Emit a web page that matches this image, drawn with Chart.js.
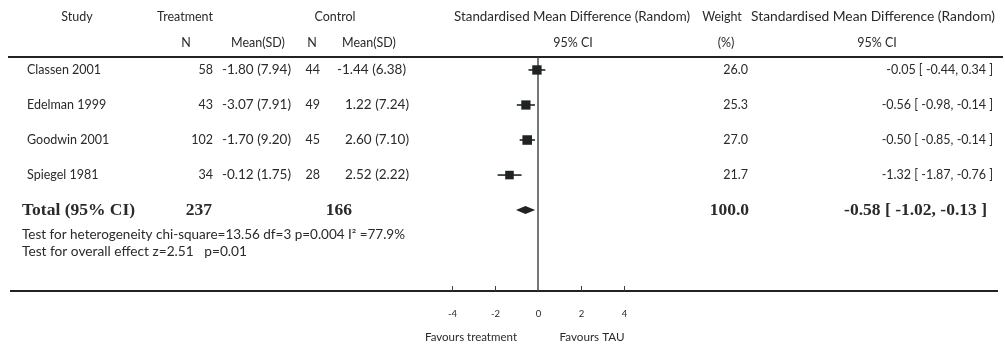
<!DOCTYPE html>
<html>
<head>
<meta charset="utf-8">
<script src="https://cdn.jsdelivr.net/npm/chart.js@4.4.1/dist/chart.umd.min.js"></script>
<style>
html,body{margin:0;padding:0;background:#fff;}
canvas{display:block;}
</style>
</head>
<body>
<canvas id="c" width="1005" height="344"></canvas>
<script>
// ---- data ----
const studies = ['Classen 2001', 'Edelman 1999', 'Goodwin 2001', 'Spiegel 1981'];
const treatN = [58, 43, 102, 34];
const treatMean = [-1.80, -3.07, -1.70, -0.12];
const treatSD = [7.94, 7.91, 9.20, 1.75];
const ctrlN = [44, 49, 45, 28];
const ctrlMean = [-1.44, 1.22, 2.60, 2.52];
const ctrlSD = [6.38, 7.24, 7.10, 2.22];
const weights = [26.0, 25.3, 27.0, 21.7];
const smd = [-0.05, -0.56, -0.50, -1.32];
const ciLow = [-0.44, -0.98, -0.85, -1.87];
const ciHigh = [0.34, -0.14, -0.14, -0.76];
const totalLabel = 'Total (95% CI)';
const totalTreatN = 237;
const totalCtrlN = 166;
const totalWeight = 100.0;
const totalSmd = -0.58;
const totalLow = -1.02;
const totalHigh = -0.13;
const xTicks = [-4, -2, 0, 2, 4];
const heterogeneityText = 'Test for heterogeneity chi-square=13.56 df=3 p=0.004 I\u00B2 =77.9%';
const overallText = 'Test for overall effect z=2.51   p=0.01';
const favoursLeft = 'Favours treatment';
const favoursRight = 'Favours TAU';

// ---- styling ----
const INK = '#1f2422';
const TEXT = '#2a2a2a';
const SANS = 'Lato, "Open Sans", sans-serif';
const SERIF = '"Liberation Serif", "DejaVu Serif", serif';
const totalRow = studies.length;

function fmtMean(m, s) { return m.toFixed(2) + ' (' + s.toFixed(2) + ')'; }
function fmtCI(e, lo, hi) { return e.toFixed(2) + ' [ ' + lo.toFixed(2) + ', ' + hi.toFixed(2) + ' ]'; }

// draw text; optional target width stretches it horizontally
function txt(ctx, s, x, y, align, font, width) {
  ctx.font = font;
  const w = ctx.measureText(s).width;
  const sx = width ? width / w : 1;
  let left = x;
  if (align === 'center') left = x - w * sx / 2;
  else if (align === 'right') left = x - w * sx;
  ctx.save();
  ctx.translate(left, y);
  ctx.scale(sx, 1);
  ctx.textAlign = 'left';
  ctx.textBaseline = 'middle';
  ctx.fillText(s, 0, 0);
  ctx.restore();
}

const ciDatasets = studies.map((s, i) => ({
  type: 'line',
  data: [{x: ciLow[i], y: i}, {x: ciHigh[i], y: i}],
  borderColor: INK,
  borderWidth: 1.6,
  pointRadius: 0,
  showLine: true,
  fill: false
}));

const pointDataset = {
  type: 'scatter',
  data: studies.map((s, i) => ({x: smd[i], y: i})),
  pointStyle: 'rect',
  pointRadius: weights.map(w => Math.sqrt(w) * 1.3),
  backgroundColor: INK,
  borderColor: INK,
  borderWidth: 0
};

const forestPlugin = {
  id: 'forest',
  beforeDatasetsDraw(chart) {
    const ctx = chart.ctx;
    const xs = chart.scales.x;
    const top = chart.chartArea.top, bottom = chart.chartArea.bottom;
    ctx.save();
    ctx.strokeStyle = INK;
    ctx.lineWidth = 2.2;
    ctx.beginPath(); ctx.moveTo(8, top); ctx.lineTo(1003, top); ctx.stroke();
    ctx.lineWidth = 2;
    ctx.beginPath(); ctx.moveTo(10, bottom); ctx.lineTo(998, bottom); ctx.stroke();
    ctx.strokeStyle = '#3a3f3d';
    ctx.lineWidth = 1.4;
    const x0 = xs.getPixelForValue(0);
    ctx.beginPath(); ctx.moveTo(x0, top); ctx.lineTo(x0, bottom); ctx.stroke();
    ctx.lineWidth = 1;
    ctx.fillStyle = TEXT;
    xTicks.forEach(t => {
      const px = Math.round(xs.getPixelForValue(t)) + 0.5;
      if (t !== 0) { ctx.beginPath(); ctx.moveTo(px, bottom); ctx.lineTo(px, bottom - 5); ctx.stroke(); }
      txt(ctx, String(t), px, 314, 'center', '9.5px ' + SANS);
    });
    txt(ctx, favoursLeft, 471, 337, 'center', '11px ' + SANS, 92);
    txt(ctx, favoursRight, 592, 337, 'center', '11px ' + SANS, 65);
    ctx.restore();
  },
  afterDatasetsDraw(chart) {
    const ctx = chart.ctx;
    const xs = chart.scales.x, ys = chart.scales.y;
    ctx.save();
    ctx.fillStyle = INK;
    const yT = ys.getPixelForValue(totalRow);
    ctx.beginPath();
    ctx.moveTo(xs.getPixelForValue(totalLow), yT);
    ctx.lineTo(xs.getPixelForValue(totalSmd), yT - 4);
    ctx.lineTo(xs.getPixelForValue(totalHigh), yT);
    ctx.lineTo(xs.getPixelForValue(totalSmd), yT + 4);
    ctx.closePath();
    ctx.fill();

    ctx.fillStyle = TEXT;
    const H = '12.5px ' + SANS;
    // headers
    txt(ctx, 'Study', 77, 17, 'center', H);
    txt(ctx, 'Treatment', 185, 17, 'center', H);
    txt(ctx, 'Control', 335, 17, 'center', H);
    txt(ctx, 'N', 186, 43, 'center', H);
    txt(ctx, 'Mean(SD)', 258, 43, 'center', H);
    txt(ctx, 'N', 312, 43, 'center', H);
    txt(ctx, 'Mean(SD)', 369, 43, 'center', H);
    txt(ctx, 'Standardised Mean Difference (Random)', 572, 17, 'center', H, 236);
    txt(ctx, '95% CI', 573, 43, 'center', H);
    txt(ctx, 'Weight', 722, 17, 'center', H);
    txt(ctx, '(%)', 726, 43, 'center', H);
    txt(ctx, 'Standardised Mean Difference (Random)', 873, 17, 'center', H, 244);
    txt(ctx, '95% CI', 877, 43, 'center', H);

    // study rows
    const B = '12.5px ' + SANS;
    studies.forEach((s, i) => {
      const y = ys.getPixelForValue(i);
      txt(ctx, s, 27, y, 'left', B);
      txt(ctx, String(treatN[i]), 213, y, 'right', B);
      txt(ctx, fmtMean(treatMean[i], treatSD[i]), 222, y, 'left', '13.5px ' + SANS);
      txt(ctx, String(ctrlN[i]), 320, y, 'right', B);
      txt(ctx, fmtMean(ctrlMean[i], ctrlSD[i]), ctrlMean[i] < 0 ? 337 : 345, y, 'left', '13.5px ' + SANS);
      txt(ctx, weights[i].toFixed(1), 748, y, 'right', B);
      txt(ctx, fmtCI(smd[i], ciLow[i], ciHigh[i]), 993, y, 'right', B);
    });

    // total row
    const TB = 'bold 17.5px ' + SERIF;
    txt(ctx, totalLabel, 22, yT, 'left', TB);
    txt(ctx, String(totalTreatN), 212, yT, 'right', TB);
    txt(ctx, String(totalCtrlN), 352, yT, 'right', TB);
    txt(ctx, totalWeight.toFixed(1), 749, yT, 'right', TB);
    txt(ctx, fmtCI(totalSmd, totalLow, totalHigh), 987, yT, 'right', TB);

    // tests
    txt(ctx, heterogeneityText, 22, 235, 'left', '12.5px ' + SANS, 383);
    txt(ctx, overallText, 22, 252, 'left', '12.5px ' + SANS, 225);
    ctx.restore();
  }
};

new Chart(document.getElementById('c'), {
  data: { datasets: [...ciDatasets, pointDataset] },
  options: {
    responsive: false,
    animation: false,
    devicePixelRatio: 1,
    layout: { padding: { left: 430, right: 359, top: 57, bottom: 53 } },
    plugins: { legend: { display: false }, tooltip: { enabled: false } },
    scales: {
      x: { type: 'linear', min: -5, max: 5, display: false },
      y: { type: 'linear', min: -0.37, max: 6.31, reverse: true, display: false }
    }
  },
  plugins: [forestPlugin]
});
</script>
</body>
</html>
